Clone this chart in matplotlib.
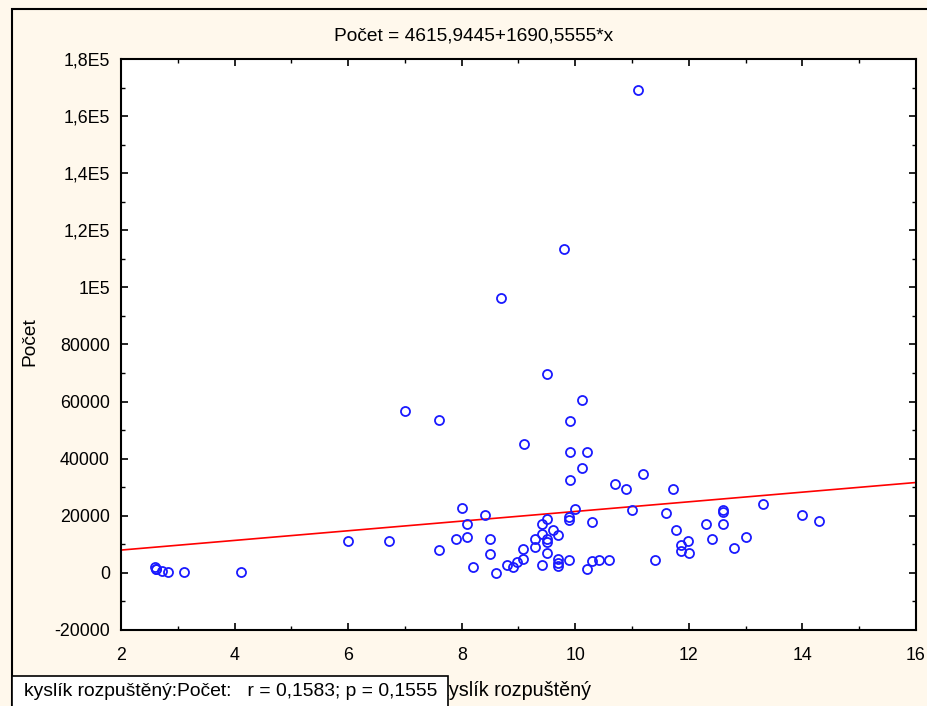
import numpy as np
import matplotlib
matplotlib.use("Agg")
import matplotlib.pyplot as plt
from matplotlib.patches import Rectangle

plt.rcParams['font.family'] = ['Liberation Sans', 'DejaVu Sans']

# data (kyslík rozpuštěný vs Počet)
kyslik = [2.6, 2.62, 2.62, 2.72, 2.82, 3.11, 4.11, 6.0, 6.72, 7.0,
          7.6, 7.6, 7.9, 8.0, 8.1, 8.1, 8.2, 8.41, 8.5, 8.5,
          8.6, 8.7, 8.8, 8.9, 8.97, 9.08, 9.08, 9.1, 9.29, 9.29,
          9.42, 9.42, 9.42, 9.5, 9.5, 9.5, 9.5, 9.5, 9.6, 9.7,
          9.7, 9.7, 9.7, 9.8, 9.89, 9.89, 9.89, 9.9, 9.9, 9.9,
          10.0, 10.12, 10.12, 10.2, 10.2, 10.3, 10.3, 10.42, 10.6, 10.7,
          10.9, 11.0, 11.1, 11.2, 11.4, 11.6, 11.72, 11.78, 11.87, 11.87,
          11.99, 12.0, 12.3, 12.4, 12.6, 12.6, 12.6, 12.8, 13.0, 13.3,
          14.0, 14.3]
pocet = [1900, 1500, 1400, 800, 300, 300, 300, 11200, 11200, 56700,
         53400, 8000, 11900, 22600, 12400, 17300, 1900, 20200, 11800, 6500,
         100, 96300, 2800, 2100, 3850, 4800, 8300, 45300, 9100, 11800,
         2700, 13500, 17000, 18800, 12000, 10900, 6900, 69700, 14900, 13200,
         4800, 3600, 2450, 113400, 19700, 18500, 4400, 53200, 42500, 32500,
         22500, 60400, 36600, 42500, 1300, 18000, 4200, 4400, 4400, 31000,
         29300, 21900, 169000, 34800, 4500, 20900, 29500, 14900, 9800, 7500,
         11200, 6900, 17000, 11800, 21500, 22000, 17000, 8600, 12400, 24000,
         20200, 18200]

# regression coefficients from the title
intercept = 4615.9445
slope = 1690.5555

x_ticks = [2, 4, 6, 8, 10, 12, 14, 16]
y_ticks = [-20000, 0, 20000, 40000, 60000, 80000, 100000, 120000, 140000, 160000, 180000]
y_tick_labels = ['-20000', '0', '20000', '40000', '60000', '80000',
                 '1E5', '1,2E5', '1,4E5', '1,6E5', '1,8E5']

W, H = 928, 706
fig = plt.figure(figsize=(W / 100, H / 100), dpi=100)
fig.patch.set_facecolor('#fff8ec')

ax = fig.add_axes([121 / W, 1 - 630 / H, (916 - 121) / W, (630 - 59) / H])
ax.set_facecolor('white')

xl = np.array([2, 16])
ax.plot(xl, intercept + slope * xl, color='#ff0000', lw=1.2, zorder=2)
ax.plot(kyslik, pocet, 'o', mfc='none', mec='#1a1aff', mew=1.3, ms=6.5, zorder=3)

ax.set_xlim(2, 16)
ax.set_ylim(-20000, 180000)
ax.set_xticks(x_ticks)
ax.set_xticks(np.arange(2, 17, 1), minor=True)
ax.set_yticks(y_ticks)
ax.set_yticklabels(y_tick_labels)
ax.set_yticks(np.arange(-20000, 180001, 10000), minor=True)
ax.tick_params(which='both', direction='in', top=True, right=True, labelsize=12.8)
ax.tick_params(which='major', length=5, width=1.2)
ax.tick_params(which='minor', length=3, width=1)
ax.tick_params(axis='x', pad=12)
ax.tick_params(axis='y', pad=8)
for s in ax.spines.values():
    s.set_linewidth(1.5)

fig.text(474 / W, 1 - 36 / H, 'Počet = 4615,9445+1690,5555*x', fontsize=13.8,
         ha='center', va='center')
ax.set_ylabel('Počet', fontsize=13.8, va='center')
ax.yaxis.set_label_coords((30 - 121) / 795, (630 - 342) / 571)
ax.set_xlabel('kyslík rozpuštěný', fontsize=14.2, va='center')
ax.xaxis.set_label_coords((515 - 121) / 795, -(690 - 630) / 571)

# outer frame of the graph window
fig.patches.append(Rectangle((12 / W, -0.1), 1.2, 1 - 9 / H + 0.1, transform=fig.transFigure,
                             fill=False, ec='black', lw=1.5, zorder=5))
# correlation box in the lower left corner
fig.patches.append(Rectangle((12 / W, -0.1), (448 - 12) / W, 0.1 + 1 - 676 / H,
                             transform=fig.transFigure, fc='white', ec='black', lw=1.2, zorder=6))
fig.text(24 / W, 1 - 691 / H, 'kyslík rozpuštěný:Počet:   r = 0,1583; p = 0,1555',
         fontsize=13.9, va='center', ha='left', zorder=7)

fig.savefig('out.png', dpi=100, facecolor=fig.get_facecolor())
